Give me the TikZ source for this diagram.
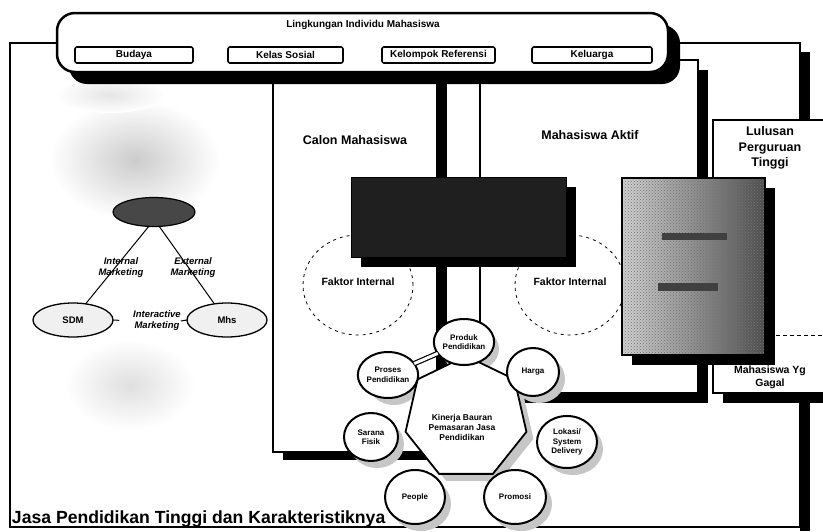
\documentclass[tikz,border=0pt]{standalone}
\usepackage{fontspec}
\setmainfont{Liberation Sans}
\usetikzlibrary{shapes.geometric,patterns}
\begin{document}
\begin{tikzpicture}[x=1pt,y=-1pt,
  every node/.style={inner sep=0pt, outer sep=0pt},
  tinyt/.style={font=\bfseries\fontsize{10}{11.5}\selectfont, align=center},
  faktt/.style={font=\bfseries\fontsize{10.5}{12}\selectfont, align=center},
  midt/.style={font=\bfseries\fontsize{12.5}{15.5}\selectfont, align=center},
  gagalt/.style={font=\bfseries\fontsize{10.5}{13}\selectfont, align=center},
  circt/.style={font=\bfseries\fontsize{8}{9.5}\selectfont, align=center},
  heptt/.style={font=\bfseries\fontsize{8.5}{10}\selectfont, align=center},
  mkt/.style={font=\bfseries\itshape\fontsize{9.5}{11}\selectfont, align=center},
  panel/.style={draw=black, line width=1.1pt, fill=white},
  subbox/.style={draw, line width=1.6pt, rounded corners=2pt, minimum height=16pt, tinyt},
  bub/.style={ellipse, draw, line width=2pt, fill=white, circt},
  faktor/.style={ellipse, draw, dash pattern=on 3pt off 4pt, line width=0.8pt, minimum width=110pt, minimum height=100pt},
  hept/.style={regular polygon, regular polygon sides=7, minimum size=124pt}
]
\useasboundingbox (0,0) rectangle (823,531);

% outer frame
\fill[black] (800,52) rectangle (810,531);
\draw[line width=1.5pt] (10,43) rectangle (800,527);

% scanner noise blobs
\shade[inner color=gray!40, outer color=white] (135,160) ellipse [x radius=85, y radius=60];
\shade[inner color=gray!25, outer color=white] (130,385) ellipse [x radius=65, y radius=45];
\shade[inner color=gray!20, outer color=white] (110,95) ellipse [x radius=55, y radius=18];

% panels
\fill[black] (283,70) rectangle (447,460);
\draw[panel] (273,60) rectangle (437,452);
\fill[black] (490,70) rectangle (708,403);
\draw[panel] (480,60) rectangle (698,393);
\fill[black] (723,130) rectangle (835,403);
\draw[panel] (713,120) rectangle (835,393);
\draw[dash pattern=on 4pt off 3pt, line width=0.9pt] (713,335) -- (823,335);

% internal factor ellipses
\node[faktor] (fk1) at (358,285) {};
\node[faktor] (fk2) at (570,285) {};

% dark centre box
\fill[black] (361,187) rectangle (576,267);
\fill[black!88] (351,177) rectangle (566,257);
\draw[line width=1pt] (351,177) rectangle (566,257);

% photo box
\fill[black] (632,188) rectangle (775,365);
\shade[left color=gray!35, right color=black!70] (622,178) rectangle (765,355);
\fill[pattern=crosshatch dots, pattern color=black!55] (622,178) rectangle (765,355);
\fill[black!75] (662,233) rectangle (727,240);
\fill[black!75] (658,283) rectangle (718,291);
\draw[line width=1.2pt] (622,178) rectangle (765,355);

% top box
\fill[black, rounded corners=18pt] (69,25) rectangle (680,84);
\draw[line width=2.5pt, fill=white, rounded corners=18pt] (57,13) rectangle (668,72);
\node[tinyt] (ttl) at (363,25) {Lingkungan Individu Mahasiswa};
\node[subbox, minimum width=118pt] (budaya) at (134,55) {Budaya};
\node[subbox, minimum width=115pt] (kelas) at (285.5,55) {Kelas Sosial};
\node[subbox, minimum width=113pt] (kelompok) at (438.5,55) {Kelompok Referensi};
\node[subbox, minimum width=120pt] (keluarga) at (592,55) {Keluarga};

% panel titles
\node[midt] (calon) at (355,140) {Calon Mahasiswa};
\node[midt] (aktif) at (590,135) {Mahasiswa Aktif};
\node[midt] (lulus) at (770,148) {Lulusan\\Perguruan\\Tinggi};
\node[gagalt] (gagal) at (770,377) {Mahasiswa Yg\\Gagal};
\node[faktt] (fk1t) at (358,282) {Faktor Internal};
\node[faktt] (fk2t) at (570,282) {Faktor Internal};

% marketing triangle
\node[ellipse, draw, line width=1.2pt, fill=black!72, minimum width=82pt, minimum height=29pt] (inti) at (154,212) {};
\node[ellipse, draw, line width=1.3pt, fill=gray!12, minimum width=80pt, minimum height=34pt, font=\bfseries\fontsize{9.5}{11}\selectfont] (sdm) at (73,320) {SDM};
\node[ellipse, draw, line width=1.3pt, fill=gray!12, minimum width=80pt, minimum height=34pt, font=\bfseries\fontsize{9.5}{11}\selectfont] (mhs) at (227,320) {Mhs};
\draw[line width=1pt] (inti.250) -- (sdm.52);
\draw[line width=1pt] (inti.290) -- (mhs.128);
\node[mkt] (intm) at (121,268) {Internal\\Marketing};
\node[mkt] (extm) at (193,268) {External\\Marketing};
\node[mkt] (intr) at (157,321) {Interactive\\Marketing};
\draw[line width=1pt, shorten >=14pt] (sdm.east) -- (intr.west);
\draw[line width=1pt] (intr.east) -- (mhs.west);

% marketing mix heptagon with shadows
\foreach \x/\y/\a/\b in {464/342/29/23, 533/372/26/24, 567/442/30/26, 515/497/31/27, 415/497/30/27, 371/437/27/24, 388/375/26/23}
  \fill[gray!45] (\x+6,\y+7) ellipse [x radius=\a, y radius=\b];
\node[hept, fill=gray!45] (heptsh) at (473,425) {};
\node[hept, draw, line width=1.8pt, fill=white] (hept) at (466,418) {};
\node[heptt] (heptlbl) at (462,427) {Kinerja Bauran\\Pemasaran Jasa\\Pendidikan};
\node[bub, minimum width=58pt, minimum height=46pt] (produk) at (464,342) {Produk\\Pendidikan};
\node[bub, minimum width=52pt, minimum height=48pt] (harga) at (533,372) {Harga};
\node[bub, minimum width=60pt, minimum height=52pt] (lokasi) at (567,442) {Lokasi/\\System\\Delivery};
\node[bub, minimum width=62pt, minimum height=54pt] (promosi) at (515,497) {Promosi};
\node[bub, minimum width=60pt, minimum height=54pt] (people) at (415,497) {People};
\node[bub, minimum width=54pt, minimum height=48pt] (sarana) at (371,437) {Sarana\\Fisik};
\node[bub, minimum width=52pt, minimum height=46pt] (proses) at (388,375) {Proses\\Pendidikan};
\draw[line width=1.2pt, double=white, double distance=3pt] (proses) -- (produk);

% bottom title
\node[anchor=base west, font=\bfseries\fontsize{17.6}{20}\selectfont] (judul) at (12,523) {Jasa Pendidikan Tinggi dan Karakteristiknya};
\end{tikzpicture}
\end{document}
